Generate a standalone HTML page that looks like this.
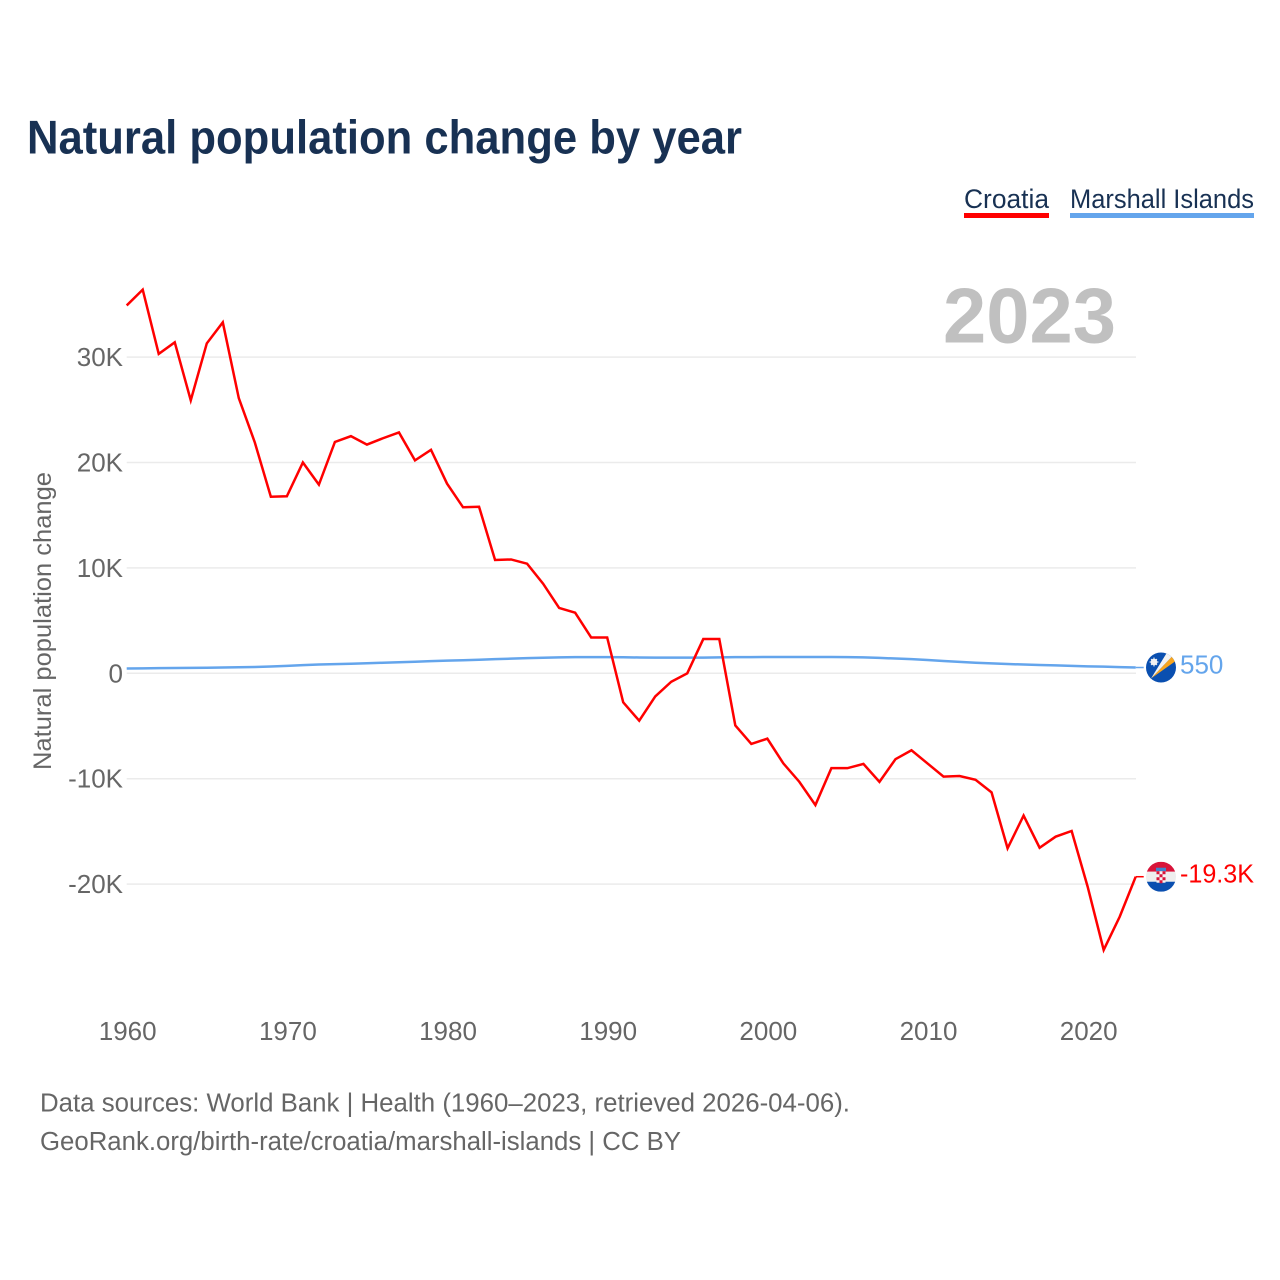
<!DOCTYPE html>
<html lang="en">
<head>
<meta charset="utf-8">
<title>Natural population change by year</title>
<style>
  html, body { margin: 0; padding: 0; background: #ffffff; }
  svg { display: block; font-family: "Liberation Sans", sans-serif; }
</style>
</head>
<body>
<svg id="chart" width="1280" height="1280" viewBox="0 0 1280 1280" xmlns="http://www.w3.org/2000/svg">
  <rect width="1280" height="1280" fill="#ffffff"/>
  <text x="27" y="153.5" font-size="47" font-weight="700" fill="#183153" textLength="715" lengthAdjust="spacingAndGlyphs">Natural population change by year</text>

  <g>
    <text x="964" y="208" font-size="26.5" fill="#183153" textLength="85" lengthAdjust="spacingAndGlyphs">Croatia</text>
    <rect x="964" y="213" width="85" height="5" fill="#ff0000"/>
  </g>
  <g>
    <text x="1070" y="208" font-size="26.5" fill="#183153" textLength="184" lengthAdjust="spacingAndGlyphs">Marshall Islands</text>
    <rect x="1070" y="213" width="184" height="5" fill="#64a5ec"/>
  </g>

  <text x="943" y="342.3" font-size="78" font-weight="700" fill="#c0c0c0" textLength="173" lengthAdjust="spacingAndGlyphs">2023</text>

  <text transform="translate(51 770) rotate(-90)" x="0" y="0" font-size="25" fill="#666666" textLength="298" lengthAdjust="spacingAndGlyphs">Natural population change</text>

  <g id="grid"></g>
  <g id="yticks"></g>
  <g id="xticks"></g>
  <g id="series"></g>

  <g id="flag-mh">
    <clipPath id="clip-mh"><circle cx="1161" cy="0" r="15"/></clipPath>
    <g clip-path="url(#clip-mh)">
      <rect x="1146" y="-15" width="30" height="30" fill="#0a4fb0"/>
      <polygon points="1151,11 1172,-11 1175,-6" fill="#f7a51f"/>
      <polygon points="1151,11 1167,-15 1172,-11" fill="#f2f2f2"/>
      <circle cx="1154" cy="-5.5" r="3.4" fill="#f2f2f2"/>
      <path d="M1154 -10V-1M1149.5 -5.5H1158.5M1151 -8.5L1157 -2.5M1151 -2.5L1157 -8.5" stroke="#f2f2f2" stroke-width="1"/>
    </g>
  </g>
  <g id="flag-hr">
    <clipPath id="clip-hr"><circle cx="1161" cy="0" r="15"/></clipPath>
    <g clip-path="url(#clip-hr)">
      <rect x="1146" y="-15" width="30" height="10" fill="#d8143a"/>
      <rect x="1146" y="-5" width="30" height="10" fill="#eeeeee"/>
      <rect x="1146" y="5" width="30" height="10" fill="#0a4fb0"/>
      <rect x="1156" y="-9" width="10" height="3.5" fill="#3f83cc"/>
      <rect x="1156.5" y="-5.5" width="9" height="11.5" fill="#f4f4f4"/>
      <path d="M1156.5 -5.5h3v3h-3zM1162.5 -5.5h3v3h-3zM1159.5 -2.5h3v3h-3zM1156.5 0.5h3v3h-3zM1162.5 0.5h3v3h-3zM1159.5 3.5h3v3h-3z" fill="#d8143a"/>
    </g>
  </g>
  <text id="label-mh" x="1180" font-size="26" fill="#64a5ec"></text>
  <text id="label-hr" x="1180" font-size="26" fill="#ff0000" textLength="74" lengthAdjust="spacingAndGlyphs"></text>

  <text x="40" y="1111.7" font-size="25.5" fill="#666666" textLength="810" lengthAdjust="spacingAndGlyphs">Data sources: World Bank | Health (1960–2023, retrieved 2026-04-06).</text>
  <text x="40" y="1150" font-size="25.5" fill="#666666" textLength="641" lengthAdjust="spacingAndGlyphs">GeoRank.org/birth-rate/croatia/marshall-islands | CC BY</text>
</svg>
<script>
const years = [1960,1961,1962,1963,1964,1965,1966,1967,1968,1969,1970,1971,1972,1973,1974,1975,1976,1977,1978,1979,1980,1981,1982,1983,1984,1985,1986,1987,1988,1989,1990,1991,1992,1993,1994,1995,1996,1997,1998,1999,2000,2001,2002,2003,2004,2005,2006,2007,2008,2009,2010,2011,2012,2013,2014,2015,2016,2017,2018,2019,2020,2021,2022,2023];
const croatia = [34900,36400,30300,31400,25900,31300,33300,26100,21900,16750,16800,20000,17900,21950,22500,21700,22300,22850,20200,21200,18000,15750,15800,10750,10800,10400,8500,6200,5750,3400,3400,-2750,-4500,-2200,-800,0,3250,3250,-4950,-6700,-6200,-8550,-10300,-12500,-9000,-9000,-8600,-10300,-8150,-7300,-8550,-9800,-9750,-10100,-11300,-16600,-13500,-16550,-15500,-14960,-20250,-26250,-23100,-19300];
const marshallIslands = [450,470,490,500,510,530,550,570,600,640,700,780,830,870,900,950,1000,1050,1100,1150,1200,1240,1290,1340,1390,1440,1480,1510,1530,1540,1540,1520,1500,1490,1490,1490,1490,1510,1530,1540,1550,1550,1550,1550,1550,1540,1510,1460,1400,1340,1260,1170,1080,1000,940,880,830,790,750,710,660,630,590,550];
const yTickValues = [30000,20000,10000,0,-10000,-20000];
const yTickLabels = ['30K','20K','10K','0','-10K','-20K'];
const xTickValues = [1960,1970,1980,1990,2000,2010,2020];
const xTickLabels = ['1960','1970','1980','1990','2000','2010','2020'];
const croatiaEndLabel = '-19.3K';
const marshallEndLabel = '550';

const NS = 'http://www.w3.org/2000/svg';
function xScale(year) { return 126.7 + (year - 1960) * 16.016; }
function yScale(value) { return 673.3 - value * 0.01054; }
function make(tag, parent) {
  const el = document.createElementNS(NS, tag);
  parent.appendChild(el);
  return el;
}

const grid = document.getElementById('grid');
const yTicks = document.getElementById('yticks');
yTickValues.forEach(function (v, i) {
  const line = make('line', grid);
  
  
  line.setAttribute('x1', 126.7);
  line.setAttribute('x2', 1136);
  line.setAttribute('y1', yScale(v));
  line.setAttribute('y2', yScale(v));
  line.setAttribute('stroke', '#ebebeb');
  line.setAttribute('stroke-width', 1.5);
  const t = make('text', yTicks);
  
  
  t.setAttribute('x', 123);
  t.setAttribute('y', yScale(v) + 9);
  t.setAttribute('text-anchor', 'end');
  t.setAttribute('font-size', 26);
  t.setAttribute('fill', '#666666');
  t.textContent = yTickLabels[i];
});

const xTicks = document.getElementById('xticks');
xTickValues.forEach(function (v, i) {
  const t = make('text', xTicks);
  
  
  t.setAttribute('x', xScale(v) + 1);
  t.setAttribute('y', 1040);
  t.setAttribute('text-anchor', 'middle');
  t.setAttribute('font-size', 26);
  t.setAttribute('fill', '#666666');
  t.textContent = xTickLabels[i];
});

function pathFor(values) {
  let d = '';
  values.forEach(function (v, i) {
    d += (i ? 'L' : 'M') + xScale(years[i]).toFixed(2) + ' ' + yScale(v).toFixed(2);
  });
  return d;
}
const series = document.getElementById('series');

const blueLine = make('path', series);


blueLine.setAttribute('d', pathFor(marshallIslands));
blueLine.setAttribute('fill', 'none');
blueLine.setAttribute('stroke', '#64a5ec');
blueLine.setAttribute('stroke-width', 2.5);

const redLine = make('path', series);


redLine.setAttribute('d', pathFor(croatia));
redLine.setAttribute('fill', 'none');
redLine.setAttribute('stroke', '#ff0000');
redLine.setAttribute('stroke-width', 2.5);

const lastX = xScale(years[years.length - 1]);
const redEndY = yScale(croatia[croatia.length - 1]);
const blueEndY = yScale(marshallIslands[marshallIslands.length - 1]);

const blueLink = make('line', series);


blueLink.setAttribute('x1', lastX);
blueLink.setAttribute('x2', lastX + 8);
blueLink.setAttribute('y1', blueEndY);
blueLink.setAttribute('y2', blueEndY);
blueLink.setAttribute('stroke', '#64a5ec');
blueLink.setAttribute('stroke-width', 1.5);

const redLink = make('line', series);


redLink.setAttribute('x1', lastX);
redLink.setAttribute('x2', lastX + 8);
redLink.setAttribute('y1', redEndY);
redLink.setAttribute('y2', redEndY);
redLink.setAttribute('stroke', '#ff0000');
redLink.setAttribute('stroke-width', 1.5);

document.getElementById('flag-mh').setAttribute('transform', 'translate(0 ' + blueEndY + ')');
document.getElementById('flag-hr').setAttribute('transform', 'translate(0 ' + redEndY + ')');
const labelMh = document.getElementById('label-mh');
labelMh.setAttribute('y', blueEndY + 6);
labelMh.textContent = marshallEndLabel;
const labelHr = document.getElementById('label-hr');
labelHr.setAttribute('y', redEndY + 6);
labelHr.textContent = croatiaEndLabel;
</script>
</body>
</html>
